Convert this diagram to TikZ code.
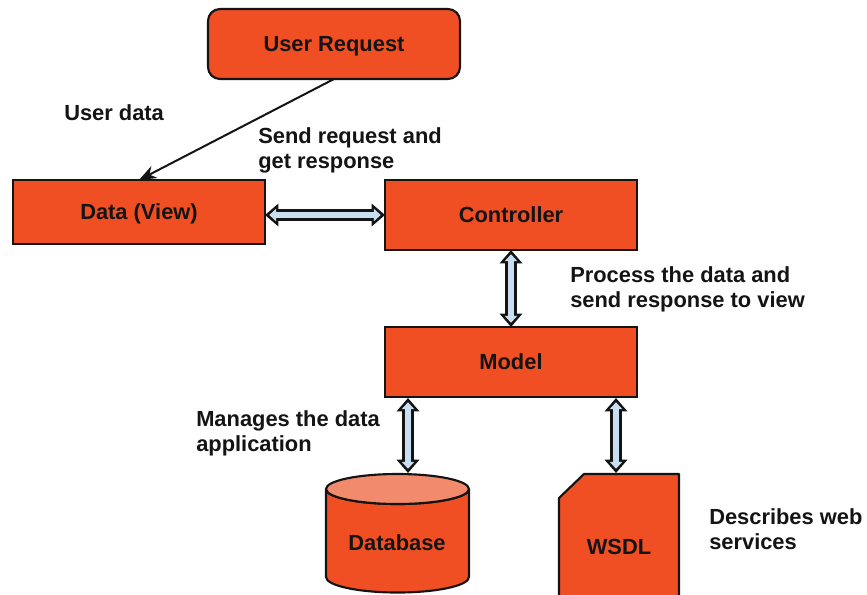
\documentclass[tikz,border=0pt]{standalone}
\usepackage{fontspec}
\setmainfont{Liberation Sans}
\usetikzlibrary{arrows.meta}
\definecolor{boxfill}{HTML}{F04E23}
\definecolor{dbtop}{HTML}{F28A6C}
\definecolor{arrowfill}{HTML}{C9DEF0}
\definecolor{ink}{HTML}{141414}
\newcommand{\blockarrow}[2]{%
  \draw[blockouter] #1 -- #2;
  \draw[blockinner] #1 -- #2;}
\tikzset{
  x=0.75pt,y=-0.75pt,
  every node/.style={font=\fontsize{16.4pt}{18.8pt}\selectfont\bfseries,text=ink},
  box/.style={draw=ink,fill=boxfill,line width=1.6pt,inner sep=0pt,outer sep=0pt,
    minimum width=189pt,text height=11.8pt,text depth=0pt},
  lbl/.style={anchor=north west,align=left,inner sep=0pt},
  shapeline/.style={draw=ink,fill=boxfill,line width=1.6pt,line join=round},
  blockouter/.style={draw=ink,line width=9pt,
    {Triangle[length=10pt,width=16.5pt,color=ink]}-{Triangle[length=10pt,width=16.5pt,color=ink]}},
  blockinner/.style={draw=arrowfill,line width=5pt,shorten >=3.2pt,shorten <=3.2pt,
    {Triangle[length=5.2pt,width=9.2pt,color=arrowfill]}-{Triangle[length=5.2pt,width=9.2pt,color=arrowfill]}},
}
\begin{document}
\begin{tikzpicture}
\useasboundingbox[fill=white] (0,0) rectangle (867,594);
\begin{scope}
\clip (0,0) rectangle (867,594);
\node[box,rounded corners=9pt,minimum height=52.5pt] (req) at (334,44) {User Request};
\node[box,minimum height=48pt] (view) at (139,212) {Data (View)};
\node[box,minimum height=52.5pt] (ctrl) at (511,215) {Controller};
\node[box,minimum height=52.5pt] (model) at (511,362) {Model};
% Database cylinder
\path[shapeline] (326,489) -- (326,577) arc[start angle=180,end angle=0,x radius=71.5,y radius=15.5]
  -- (469,489) arc[start angle=0,end angle=180,x radius=71.5,y radius=15] -- cycle;
\path[shapeline,fill=dbtop] (397.5,489) ellipse[x radius=71.5,y radius=15];
\node[inner sep=0pt,minimum width=107pt,minimum height=40pt] (db) at (397,543) {Database};
% WSDL sheet
\path[shapeline] (584,474) -- (679,474) -- (679,600) -- (559,600) -- (559,498) -- cycle;
\node[inner sep=0pt,minimum width=90pt,minimum height=70pt] (wsdl) at (619,547) {WSDL};
\coordinate (dbtopc) at (408,473);
\coordinate (wsdltopc) at (616,473);
\coordinate (dbmodel) at (408,398);
\coordinate (wsdlmodel) at (616,398);
\end{scope}
\draw[draw=ink,line width=1.5pt,-{Stealth[length=13pt,width=10pt,color=ink]}] (req.south) -- (view.north);
\blockarrow{(view.east |- ctrl.west)}{(ctrl.west)}
\blockarrow{(ctrl.south)}{(model.north)}
\blockarrow{(dbmodel)}{(dbtopc)}
\blockarrow{(wsdlmodel)}{(wsdltopc)}
\node[lbl] (l1) at (64,104) {User data};
\node[lbl] (l2) at (258,127) {Send request and\\get response};
\node[lbl] (l3) at (570,266) {Process the data and\\send response to view};
\node[lbl] (l4) at (196,410) {Manages the data\\application};
\node[lbl] (l5) at (709,508) {Describes web\\services};
\end{tikzpicture}
\end{document}
